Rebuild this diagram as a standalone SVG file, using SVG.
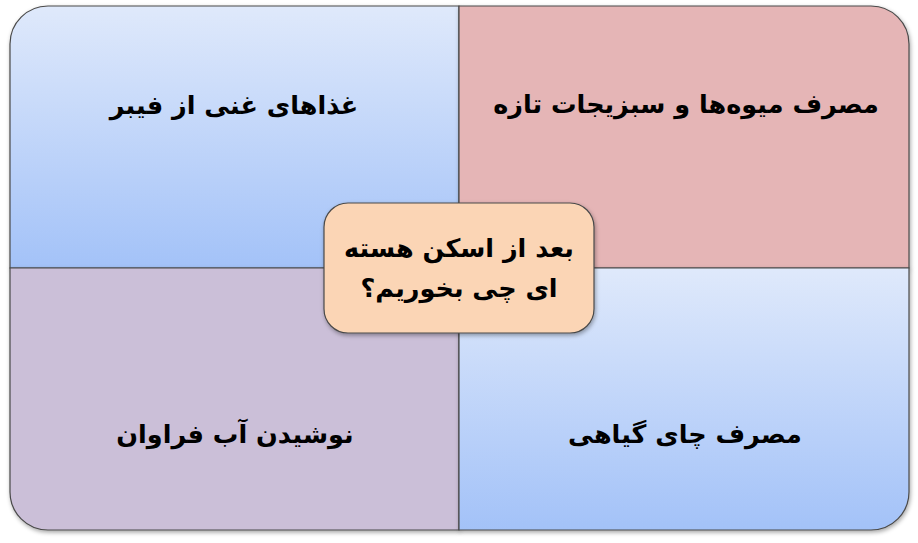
<svg xmlns="http://www.w3.org/2000/svg" width="918" height="543" viewBox="0 0 918 543">
<defs>
<linearGradient id="blue" x1="0" y1="0" x2="0" y2="1">
<stop offset="0" stop-color="#dfe9fb"/>
<stop offset="1" stop-color="#a3c2f8"/>
</linearGradient>
<filter id="sh" x="-10%" y="-10%" width="120%" height="130%">
<feDropShadow dx="1" dy="2" stdDeviation="2" flood-color="#000" flood-opacity="0.35"/>
</filter>
<style>
.q{stroke:#4a4a4a;stroke-width:1.2;filter:url(#sh)}
.t{font-family:"DejaVu Sans",sans-serif;font-weight:bold;font-size:25.5px;fill:#000;text-anchor:middle}
</style>
</defs>
<g id="quad-tl">
<path class="q" fill="url(#blue)" d="M10,268 V44 A38,38 0 0 1 48,6 H459 V268 Z"/>
<text class="t" x="234" y="114" direction="rtl">غذاهای غنی از فیبر</text>
</g>
<g id="quad-tr">
<path class="q" fill="#e5b5b6" d="M459,6 H871 A38,38 0 0 1 909,44 V268 H459 Z"/>
<text class="t" x="686" y="113" direction="rtl">مصرف میوه‌ها و سبزیجات تازه</text>
</g>
<g id="quad-bl">
<path class="q" fill="#cbbfd8" d="M10,268 H459 V530 H48 A38,38 0 0 1 10,492 Z"/>
<text class="t" x="235" y="443" direction="rtl">نوشیدن آب فراوان</text>
</g>
<g id="quad-br">
<path class="q" fill="url(#blue)" d="M459,268 H909 V492 A38,38 0 0 1 871,530 H459 Z"/>
<text class="t" x="685" y="443" direction="rtl">مصرف چای گیاهی</text>
</g>
<g id="connectors"></g>
<g id="center">
<rect class="q" x="324" y="203" width="270" height="130" rx="24" ry="24" fill="#fbd5b5"/>
<text class="t" x="459" y="257" direction="rtl">بعد از اسکن هسته</text>
<text class="t" x="459" y="297" direction="rtl">ای چی بخوریم؟</text>
</g>
</svg>
